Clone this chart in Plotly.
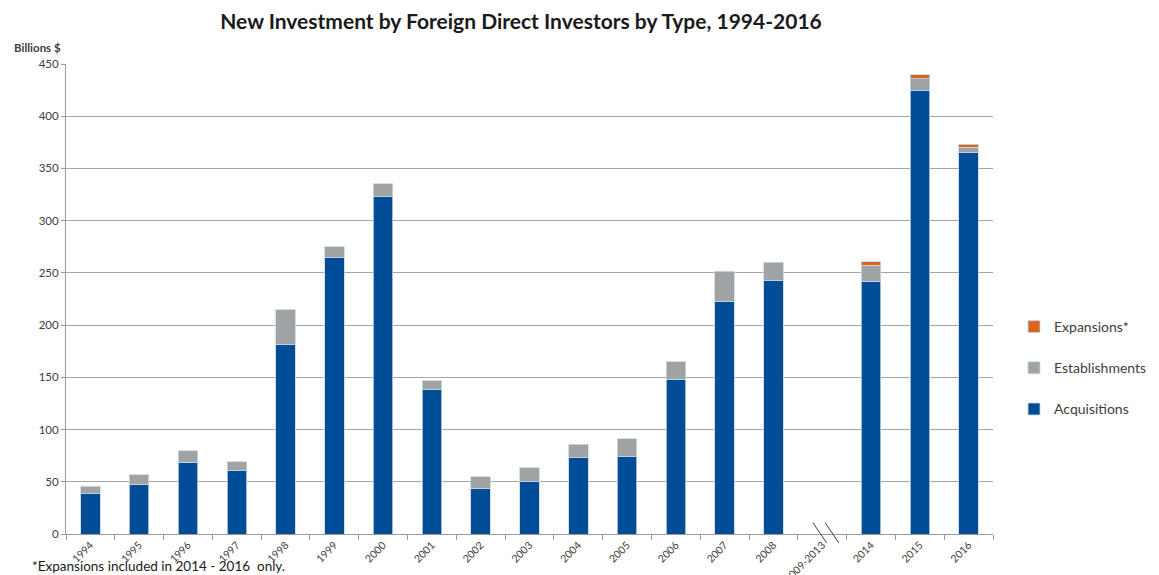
import plotly.graph_objects as go

categories = ["1994", "1995", "1996", "1997", "1998", "1999", "2000", "2001", "2002",
              "2003", "2004", "2005", "2006", "2007", "2008", "2009-2013", "2014", "2015", "2016"]
acquisitions = [38.7, 47.6, 68.7, 60.7, 181.9, 264.6, 322.7, 138.6, 43.8,
                50.2, 72.9, 73.9, 148.1, 222.8, 242.5, None, 242.2, 425.1, 365.1]
establishments = [7.0, 9.3, 11.0, 8.7, 32.9, 10.5, 12.7, 8.2, 10.9,
                  13.1, 13.1, 17.3, 17.0, 28.7, 17.6, None, 15.0, 10.6, 5.4]
expansions = [None] * 16 + [3.5, 3.8, 2.9]

tick_vals = [0, 50, 100, 150, 200, 250, 300, 350, 400, 450]

FONT = "Lato, 'Open Sans', sans-serif"
TXT = "#404040"
edge = dict(color="rgba(200,215,235,0.8)", width=1)

# figure is drawn with an 8px page offset; work in figure pixels
W, H = 1151, 567
L, T, R, B = 58, 56, 166, 41
PW, PH = W - L - R, H - T - B  # 927 x 470

fig = go.Figure()
fig.add_trace(go.Bar(name="Acquisitions", x=categories, y=acquisitions,
                     marker=dict(color="#004C97", line=edge), legendgroup="a", legendrank=3))
fig.add_trace(go.Bar(name="Establishments", x=categories, y=establishments,
                     marker=dict(color="#A0A3A4", line=edge), legendgroup="b", legendrank=2))
fig.add_trace(go.Bar(name="Expansions*", x=categories, y=expansions,
                     marker=dict(color="#D8641E", line=edge), legendgroup="c", legendrank=1))

fig.update_layout(
    barmode="stack",
    bargap=0.6,
    width=W, height=H,
    margin=dict(l=L, r=R, t=T, b=B, autoexpand=False),
    plot_bgcolor="white", paper_bgcolor="white",
    font=dict(family=FONT, color=TXT, size=11),
    title=dict(text="<b>New Investment by Foreign Direct Investors by Type, 1994-2016</b>",
               x=513 / W, xanchor="center", xref="container", y=1 - 14 / H, yanchor="middle",
               yref="container",
               font=dict(family=FONT, size=21, color="#1a1a1a")),
    legend=dict(traceorder="grouped", tracegroupgap=20,
                xref="container", yref="container",
                x=1006 / W, xanchor="left", y=1 - 360 / H, yanchor="middle",
                font=dict(family=FONT, size=14, color=TXT),
                itemwidth=30, bgcolor="rgba(0,0,0,0)"),
    showlegend=True,
)
fig.update_xaxes(
    type="category",
    tickangle=-45,
    automargin=False,
    tickfont=dict(size=10.5, color=TXT, family=FONT),
    showline=True, linecolor="#9a9a9a", linewidth=1,
    ticks="outside", tickson="boundaries", ticklen=5, tickcolor="#9a9a9a",
    showgrid=False,
)
fig.update_yaxes(
    range=[0, 450],
    automargin=False,
    tickvals=tick_vals,
    tickfont=dict(size=11.5, color=TXT, family=FONT),
    showline=True, linecolor="#9a9a9a", linewidth=1,
    ticks="outside", ticklen=4, tickcolor="#9a9a9a",
    showgrid=True, gridcolor="#a6a6a6", gridwidth=1,
    zeroline=False,
)

# axis break marks at 2009-2013
for dx in (0.0, 0.25):
    fig.add_shape(type="line", xref="x", yref="paper",
                  x0=14.81 + dx, x1=15.09 + dx, y0=0.024, y1=-0.019,
                  line=dict(color="#404040", width=1))

fig.add_annotation(text="<b>Billions $</b>", xref="paper", yref="paper",
                   x=-54 / PW, y=(PH + 16) / PH, xanchor="left", yanchor="middle",
                   showarrow=False, font=dict(size=11.5, color=TXT, family=FONT))
fig.add_annotation(text="*Expansions included in 2014 - 2016  only.", xref="paper", yref="paper",
                   x=-36 / PW, y=-32 / PH, xanchor="left", yanchor="middle",
                   showarrow=False, font=dict(size=13.5, color="#1a1a1a", family=FONT))

fig.write_html("out.html")
